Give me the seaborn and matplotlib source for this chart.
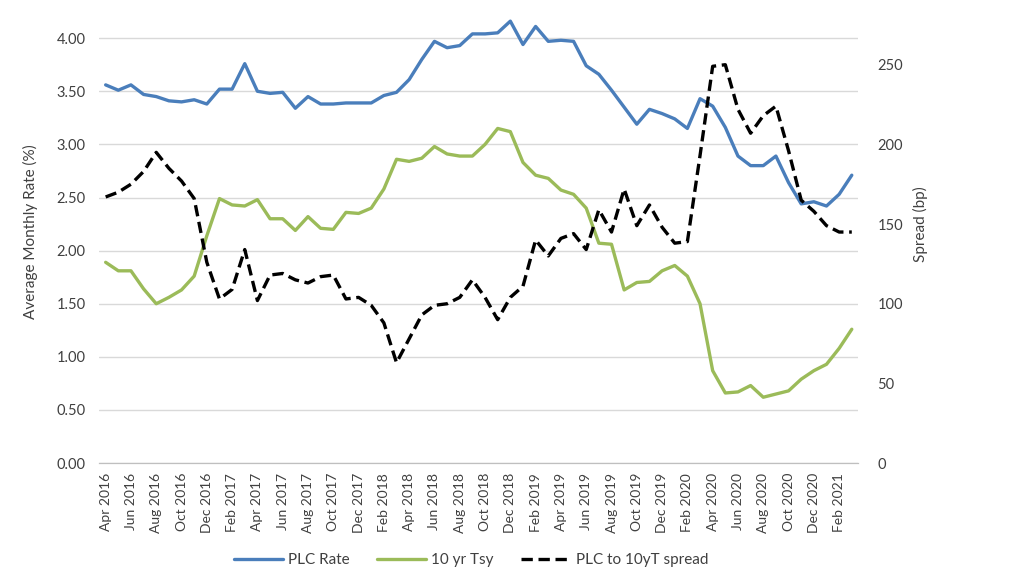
import pandas as pd
import matplotlib
matplotlib.use("Agg")
import matplotlib.pyplot as plt
import seaborn as sns

# ── Data (monthly, Apr 2016 – Mar 2021) ─────────────────────────────────────
months = pd.date_range("2016-04-01", periods=60, freq="MS")

plc_rate = [
    3.56, 3.51, 3.56, 3.47, 3.45, 3.41, 3.40, 3.42, 3.38, 3.52,
    3.52, 3.76, 3.50, 3.48, 3.49, 3.34, 3.45, 3.38, 3.38, 3.39,
    3.39, 3.39, 3.46, 3.49, 3.61, 3.80, 3.97, 3.91, 3.93, 4.04,
    4.04, 4.05, 4.16, 3.94, 4.11, 3.97, 3.98, 3.97, 3.74, 3.66,
    3.51, 3.35, 3.19, 3.33, 3.29, 3.24, 3.15, 3.43, 3.36, 3.16,
    2.89, 2.80, 2.80, 2.89, 2.64, 2.44, 2.46, 2.42, 2.53, 2.71,
]
tsy_10yr = [
    1.89, 1.81, 1.81, 1.64, 1.50, 1.56, 1.63, 1.76, 2.14, 2.49,
    2.43, 2.42, 2.48, 2.30, 2.30, 2.19, 2.32, 2.21, 2.20, 2.36,
    2.35, 2.40, 2.58, 2.86, 2.84, 2.87, 2.98, 2.91, 2.89, 2.89,
    3.00, 3.15, 3.12, 2.83, 2.71, 2.68, 2.57, 2.53, 2.40, 2.07,
    2.06, 1.63, 1.70, 1.71, 1.81, 1.86, 1.76, 1.50, 0.87, 0.66,
    0.67, 0.73, 0.62, 0.65, 0.68, 0.79, 0.87, 0.93, 1.08, 1.26,
]
spread_bp = [
    167, 170, 175, 183, 195, 185, 177, 166, 126, 103,
    109, 134, 102, 118, 119, 115, 113, 117, 118, 103,
    104, 99, 88, 63, 78, 93, 99, 100, 104, 115,
    104, 90, 104, 111, 140, 130, 141, 144, 134, 159,
    145, 172, 149, 162, 148, 138, 139, 193, 249, 250,
    222, 207, 218, 224, 196, 165, 158, 149, 145, 145,
]

df = pd.DataFrame({
    "idx": range(len(months)),
    "plc": plc_rate,
    "tsy": tsy_10yr,
    "spread": spread_bp,
})
labels = [m.strftime("%b %Y") for m in months]

BLUE  = "#4a7ebb"
GREEN = "#9bbb59"
GRID  = "#d9d9d9"
TEXT  = "#404040"

sns.set_style("white")
plt.rcParams["font.family"] = ["Lato", "DejaVu Sans"]

fig = plt.figure(figsize=(10.24, 5.76), dpi=100)
# top of the plot area sits just above the picture edge (4.50 / 300 cropped)
ax = fig.add_axes([0.097, 0.196, 0.741, 0.830])
ax2 = ax.twinx()

sns.lineplot(data=df, x="idx", y="plc", ax=ax, color=BLUE, linewidth=2.4,
             label="PLC Rate", legend=False)
sns.lineplot(data=df, x="idx", y="tsy", ax=ax, color=GREEN, linewidth=2.4,
             label="10 yr Tsy", legend=False)
sns.lineplot(data=df, x="idx", y="spread", ax=ax2, color="black", linewidth=2.4,
             linestyle=(0, (3.4, 1.7)), label="PLC to 10yT spread", legend=False)

ax.set_xlim(-0.5, len(months) - 0.5)
ax.set_ylim(0, 4.5)
ax2.set_ylim(0, 300)
ax.set_yticks([i * 0.5 for i in range(9)])
ax.set_yticklabels([f"{i * 0.5:.2f}" for i in range(9)])
ax2.set_yticks(range(0, 251, 50))

ax.yaxis.grid(True, color=GRID, linewidth=1)
ax.xaxis.grid(False)
ax2.grid(False)
for a in (ax, ax2):
    for s in ("top", "left", "right"):
        a.spines[s].set_visible(False)
    a.spines["bottom"].set_color("#bfbfbf")

# tick marks between categories, labels at every second month
ax.set_xticks([i - 0.5 for i in range(0, len(months) + 1, 2)])
ax.set_xticklabels([])
ax.set_xticks(range(0, len(months), 2), minor=True)
ax.set_xticklabels(labels[::2], minor=True, rotation=90, fontsize=10, color=TEXT)
ax.tick_params(axis="x", which="major", length=5, color="#bfbfbf", direction="out")
ax.tick_params(axis="x", which="minor", length=0, pad=7)
ax.tick_params(axis="y", length=0, labelsize=10.5, labelcolor=TEXT, pad=10)
ax2.tick_params(axis="y", length=0, labelsize=10.5, labelcolor=TEXT, pad=14)

ax.set_xlabel("")
ax.set_ylabel("Average Monthly Rate (%)", fontsize=11, color=TEXT)
ax.yaxis.set_label_coords(-0.081, 0.485)
ax2.set_ylabel("Spread (bp)", fontsize=11, color=TEXT)
ax2.yaxis.set_label_coords(1.072, 0.5)

handles = ax.get_lines()[:2] + ax2.get_lines()[:1]
fig.legend(handles, [h.get_label() for h in handles], loc="center",
           bbox_to_anchor=(0.46, 0.027), ncol=3, frameon=False, fontsize=11,
           handlelength=3.2, columnspacing=1.8, handletextpad=0.35,
           labelcolor=TEXT)

fig.savefig("out.png", dpi=100)
plt.close(fig)
